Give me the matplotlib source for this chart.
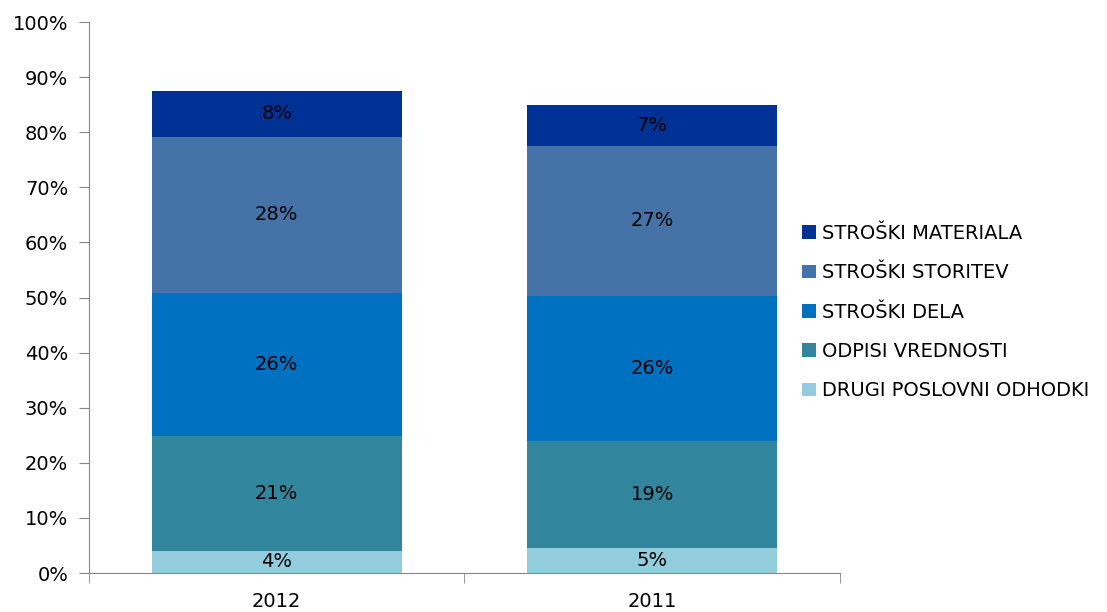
import matplotlib.pyplot as plt
import numpy as np

years = ['2012', '2011']
series = ['DRUGI POSLOVNI ODHODKI', 'ODPISI VREDNOSTI', 'STROŠKI DELA',
          'STROŠKI STORITEV', 'STROŠKI MATERIALA']
drugi = [4.05, 4.6]
odpisi = [20.9, 19.4]
dela = [25.9, 26.3]
storitev = [28.3, 27.2]
materiala = [8.4, 7.4]
colors = ['#93CDDD', '#31859C', '#0070C0', '#4673A7', '#003296']

values = [drugi, odpisi, dela, storitev, materiala]

fig = plt.figure(figsize=(11.07, 6.12), dpi=100)
ax = fig.add_axes([0.0804, 0.0637, 0.6784, 0.9003])

x = np.arange(len(years))
bottom = np.zeros(len(years))
for name, vals, col in zip(series, values, colors):
    vals = np.array(vals)
    ax.bar(x, vals, 0.667, bottom=bottom, color=col, label=name)
    for xi, b, v in zip(x, bottom, vals):
        ax.text(xi, b + v / 2, f'{int(v + 0.5)}%', ha='center', va='center',
                fontsize=14, color='black')
    bottom += vals

ax.set_xlim(-0.5, 1.5)
ax.set_ylim(0, 100)
ax.set_yticks(np.arange(0, 101, 10))
ax.set_yticklabels([f'{t}%' for t in range(0, 101, 10)], fontsize=14)
ax.set_xticks(x)
ax.set_xticklabels(years, fontsize=14)
ax.set_xticks([-0.5, 0.5, 1.5], minor=True)
ax.tick_params(axis='x', which='major', length=0, pad=14)
ax.tick_params(axis='x', which='minor', length=7, color='#868686', direction='out')
ax.tick_params(axis='y', length=7, color='#868686', direction='out', pad=8)

for s in ['top', 'right']:
    ax.spines[s].set_visible(False)
for s in ['left', 'bottom']:
    ax.spines[s].set_color('#868686')

handles, labels = ax.get_legend_handles_labels()
leg = fig.legend(handles[::-1], labels[::-1], loc='center left',
                 bbox_to_anchor=(0.709, 0.49), frameon=False, fontsize=14,
                 handlelength=0.7, handleheight=0.7, handletextpad=0.3,
                 labelspacing=1.05)

fig.savefig('out.png', dpi=100)
